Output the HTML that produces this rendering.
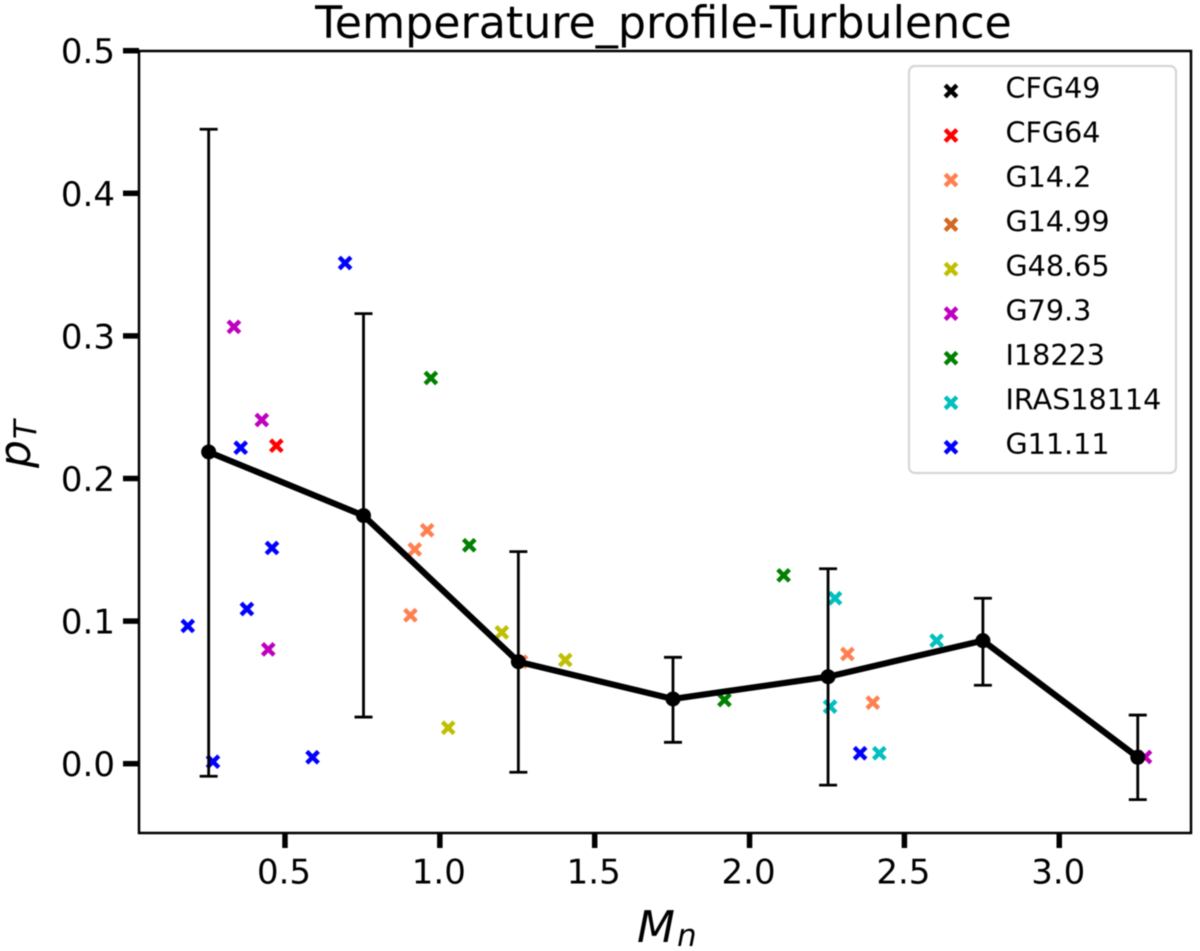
<!DOCTYPE html>
<html lang="en">
<head>
<meta charset="utf-8">
<title>Temperature_profile-Turbulence</title>
<style>
  html, body { margin: 0; padding: 0; background: #fff; width: 1200px; height: 951px; overflow: hidden; }
  svg { display: block; filter: blur(0.6px); }
  text { font-family: "DejaVu Sans", "Liberation Sans", sans-serif; fill: #000; }
</style>
</head>
<body>
<svg id="chart" xmlns="http://www.w3.org/2000/svg" width="1200" height="951" viewBox="0 0 1200 951">
  <rect x="0" y="0" width="1200" height="951" fill="#fff"/>
  <g id="scatter-layer"></g>
  <g id="error-layer"></g>
  <g id="mean-layer"></g>
  <rect x="139" y="51" width="1052" height="782" fill="none" stroke="#000" stroke-width="2.5"/>
  <g id="x-axis"></g>
  <g id="y-axis"></g>
  <text x="663.5" y="38" font-size="44.3" text-anchor="middle">Temperature_profile-Turbulence</text>
  <text x="637" y="942" font-size="44" font-style="italic">M<tspan font-size="31" dx="2" dy="4">n</tspan></text>
  <text transform="translate(30 468) rotate(-90)" font-size="44" font-style="italic">p<tspan font-size="31" dx="1" dy="6">T</tspan></text>
  <g id="legend">
    <rect x="909" y="66" width="267" height="407" rx="6" ry="6" fill="#fff" fill-opacity="0.85" stroke="#d6d6d6" stroke-width="2.2"/>
  </g>
</svg>
<script>
const xTicks = [0.5, 1.0, 1.5, 2.0, 2.5, 3.0];
const yTicks = [0.0, 0.1, 0.2, 0.3, 0.4, 0.5];

const seriesNames = ['CFG49', 'CFG64', 'G14.2', 'G14.99', 'G48.65', 'G79.3', 'I18223', 'IRAS18114', 'G11.11'];
const seriesColors = ['#000000', '#ff0000', '#ff7f50', '#d2691e', '#bfbf00', '#bf00bf', '#008000', '#00bfbf', '#0000ff'];

const cfg49X = [];
const cfg49Y = [];
const cfg64X = [0.472];
const cfg64Y = [0.223];
const g142X = [0.905, 0.919, 0.959, 1.262, 2.316, 2.398];
const g142Y = [0.1041, 0.1503, 0.1637, 0.0715, 0.0769, 0.0428];
const g1499X = [];
const g1499Y = [];
const g4865X = [1.027, 1.2, 1.405];
const g4865Y = [0.0252, 0.0921, 0.0727];
const g793X = [0.335, 0.425, 0.446, 3.277];
const g793Y = [0.3063, 0.241, 0.0802, 0.0047];
const i18223X = [0.971, 1.095, 1.919, 2.11];
const i18223Y = [0.2705, 0.1532, 0.0447, 0.1321];
const iras18114X = [2.26, 2.276, 2.604, 2.419];
const iras18114Y = [0.04, 0.116, 0.0863, 0.0073];
const g1111X = [0.186, 0.2675, 0.357, 0.377, 0.458, 0.589, 0.694, 2.357];
const g1111Y = [0.0966, 0.0014, 0.2216, 0.1085, 0.1513, 0.0045, 0.3511, 0.0073];

const meanX = [0.2535, 0.7535, 1.2535, 1.7528, 2.2535, 2.7535, 3.2535];
const meanY = [0.2186, 0.174, 0.0715, 0.0454, 0.061, 0.0863, 0.0045];
const errUpper = [0.4449, 0.3156, 0.1487, 0.0746, 0.1367, 0.116, 0.0341];
const errLower = [-0.0088, 0.0327, -0.006, 0.015, -0.015, 0.055, -0.0252];

const allX = [cfg49X, cfg64X, g142X, g1499X, g4865X, g793X, i18223X, iras18114X, g1111X];
const allY = [cfg49Y, cfg64Y, g142Y, g1499Y, g4865Y, g793Y, i18223Y, iras18114Y, g1111Y];

function xScale(v) { return 285 + (v - 0.5) * 309.7; }
function yScale(v) { return 763.7 - v * 1426; }

const NS = 'http://www.w3.org/2000/svg';
function make(tag, attrs, parent) {
  const el = document.createElementNS(NS, tag);
  for (const k in attrs) el.setAttribute(k, attrs[k]);
  parent.appendChild(el);
  return el;
}
function drawCross(parent, cx, cy, color) {
  const g = make('g', {}, parent);
  const a = 5.8;
  make('path', {
    d: 'M' + (cx - a) + ' ' + (cy - a) + 'L' + (cx + a) + ' ' + (cy + a) + 'M' + (cx - a) + ' ' + (cy + a) + 'L' + (cx + a) + ' ' + (cy - a),
    stroke: color, 'stroke-width': 4.4, fill: 'none'
  }, g);
  return g;
}

const xAxis = document.getElementById('x-axis');
xTicks.forEach(function (t) {
  const px = xScale(t);
  const mark = make('line', { x1: px, x2: px, y1: 833, y2: 848, stroke: '#000', 'stroke-width': 5.5 }, xAxis);
  
  
  const label = make('text', { x: px - 1, y: 883.5, 'font-size': 34, 'text-anchor': 'middle' }, xAxis);
  label.textContent = t.toFixed(1);
  
  
});

const yAxis = document.getElementById('y-axis');
yTicks.forEach(function (t) {
  const py = yScale(t);
  const mark = make('line', { x1: 123, x2: 139, y1: py, y2: py, stroke: '#000', 'stroke-width': 5.5 }, yAxis);
  
  
  const label = make('text', { x: 115, y: py + 12.5, 'font-size': 34, 'text-anchor': 'end' }, yAxis);
  label.textContent = t.toFixed(1);
  
  
});

const scatterLayer = document.getElementById('scatter-layer');
seriesNames.forEach(function (name, i) {
  allX[i].forEach(function (xv, j) {
    const mark = drawCross(scatterLayer, xScale(xv), yScale(allY[i][j]), seriesColors[i]);
    
    
  });
});

const errorLayer = document.getElementById('error-layer');
meanX.forEach(function (xv, i) {
  const px = xScale(xv);
  const top = yScale(errUpper[i]);
  const bottom = yScale(errLower[i]);
  const stem = make('line', { x1: px, x2: px, y1: top, y2: bottom, stroke: '#000', 'stroke-width': 2.8 }, errorLayer);
  
  
  const capTop = make('line', { x1: px - 9, x2: px + 9, y1: top, y2: top, stroke: '#000', 'stroke-width': 2.8 }, errorLayer);
  
  
  const capBottom = make('line', { x1: px - 9, x2: px + 9, y1: bottom, y2: bottom, stroke: '#000', 'stroke-width': 2.8 }, errorLayer);
  
  
});

const meanLayer = document.getElementById('mean-layer');
const meanPoints = meanX.map(function (xv, i) { return xScale(xv) + ',' + yScale(meanY[i]); }).join(' ');
const meanLine = make('polyline', { points: meanPoints, fill: 'none', stroke: '#000', 'stroke-width': 6.2, 'stroke-linejoin': 'round' }, meanLayer);


meanX.forEach(function (xv, i) {
  const dot = make('circle', { cx: xScale(xv), cy: yScale(meanY[i]), r: 7.5, fill: '#000' }, meanLayer);
  
  
});

const legend = document.getElementById('legend');
seriesNames.forEach(function (name, i) {
  const rowY = 91 + i * 44.53;
  const entry = make('g', {}, legend);
  
  
  const marker = drawCross(entry, 951, rowY, seriesColors[i]);
  
  
  const label = make('text', { x: 1005.5, y: rowY + 7, 'font-size': 28.6 }, entry);
  label.textContent = name;
  
  
});
</script>
</body>
</html>
